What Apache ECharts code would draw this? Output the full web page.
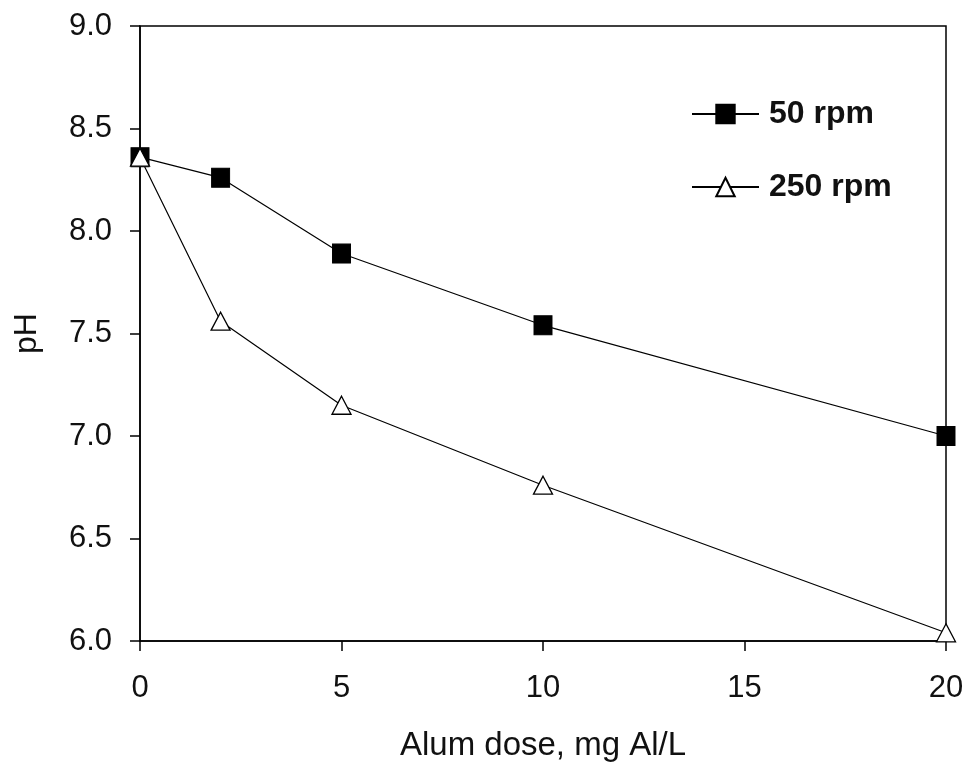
<!DOCTYPE html>
<html><head><meta charset="utf-8">
<script src="https://cdn.jsdelivr.net/npm/echarts@6/dist/echarts.min.js"></script>
<style>html,body{margin:0;padding:0;background:#fff}#c{width:969px;height:768px}</style>
</head><body><div id="c"></div>
<script>
const doses = [0, 2, 5, 10, 20];
const ph50 = [8.36, 8.26, 7.89, 7.54, 7.00];
const ph250 = [8.36, 7.56, 7.15, 6.76, 6.04];
const seriesNames = ['50 rpm', '250 rpm'];
const xTitle = 'Alum dose, mg Al/L';
const yTitle = 'pH';

const font = 'Liberation Sans, Arial, sans-serif';
const txt = '#111';
const chart = echarts.init(document.getElementById('c'), null, {renderer: 'canvas'});
chart.setOption({
  backgroundColor: '#fff',
  animation: false,
  grid: {left: 140, top: 26, right: 23, bottom: 127, show: true, borderColor: '#000', borderWidth: 1.5,
         containLabel: false, outerBoundsMode: 'none'},
  legend: {
    orient: 'vertical', left: 691, top: 98, padding: 0, itemWidth: 67, itemHeight: 23, itemGap: 41,
    textStyle: {fontFamily: font, fontSize: 32, fontWeight: 'bold', color: txt, padding: [0,0,0,5]},
    data: seriesNames
  },
  xAxis: {
    type: 'value', min: 0, max: 20, interval: 5,
    name: xTitle, nameLocation: 'middle', nameGap: 88,
    nameTextStyle: {fontFamily: font, fontSize: 33, color: txt},
    axisLine: {lineStyle: {color: '#000', width: 1.5}},
    axisTick: {show: true, inside: false, length: 10, lineStyle: {color: '#000', width: 1.5}},
    axisLabel: {fontFamily: font, fontSize: 31, color: txt, margin: 32},
    splitLine: {show: false}
  },
  yAxis: {
    type: 'value', min: 6, max: 9, interval: 0.5,
    name: yTitle, nameLocation: 'middle', nameGap: 97,
    nameTextStyle: {fontFamily: font, fontSize: 32, color: txt},
    axisLine: {lineStyle: {color: '#000', width: 1.5}},
    axisTick: {show: true, inside: false, length: 10, lineStyle: {color: '#000', width: 1.5}},
    axisLabel: {fontFamily: font, fontSize: 31, color: txt, margin: 28, formatter: v => v.toFixed(1)},
    splitLine: {show: false}
  },
  series: [
    {
      name: seriesNames[0], type: 'line', data: doses.map((d, i) => [d, ph50[i]]),
      symbol: 'rect', symbolSize: [18, 19], showAllSymbol: true,
      lineStyle: {color: '#000', width: 1.2},
      itemStyle: {color: '#000', borderColor: '#000', borderWidth: 1},
      z: 2
    },
    {
      name: seriesNames[1], type: 'line', data: doses.map((d, i) => [d, ph250[i]]),
      symbol: 'triangle', symbolSize: [19, 18], showAllSymbol: true,
      lineStyle: {color: '#000', width: 1.2},
      itemStyle: {color: '#fff', borderColor: '#000', borderWidth: 1.3},
      z: 3
    }
  ]
});
</script></body></html>
